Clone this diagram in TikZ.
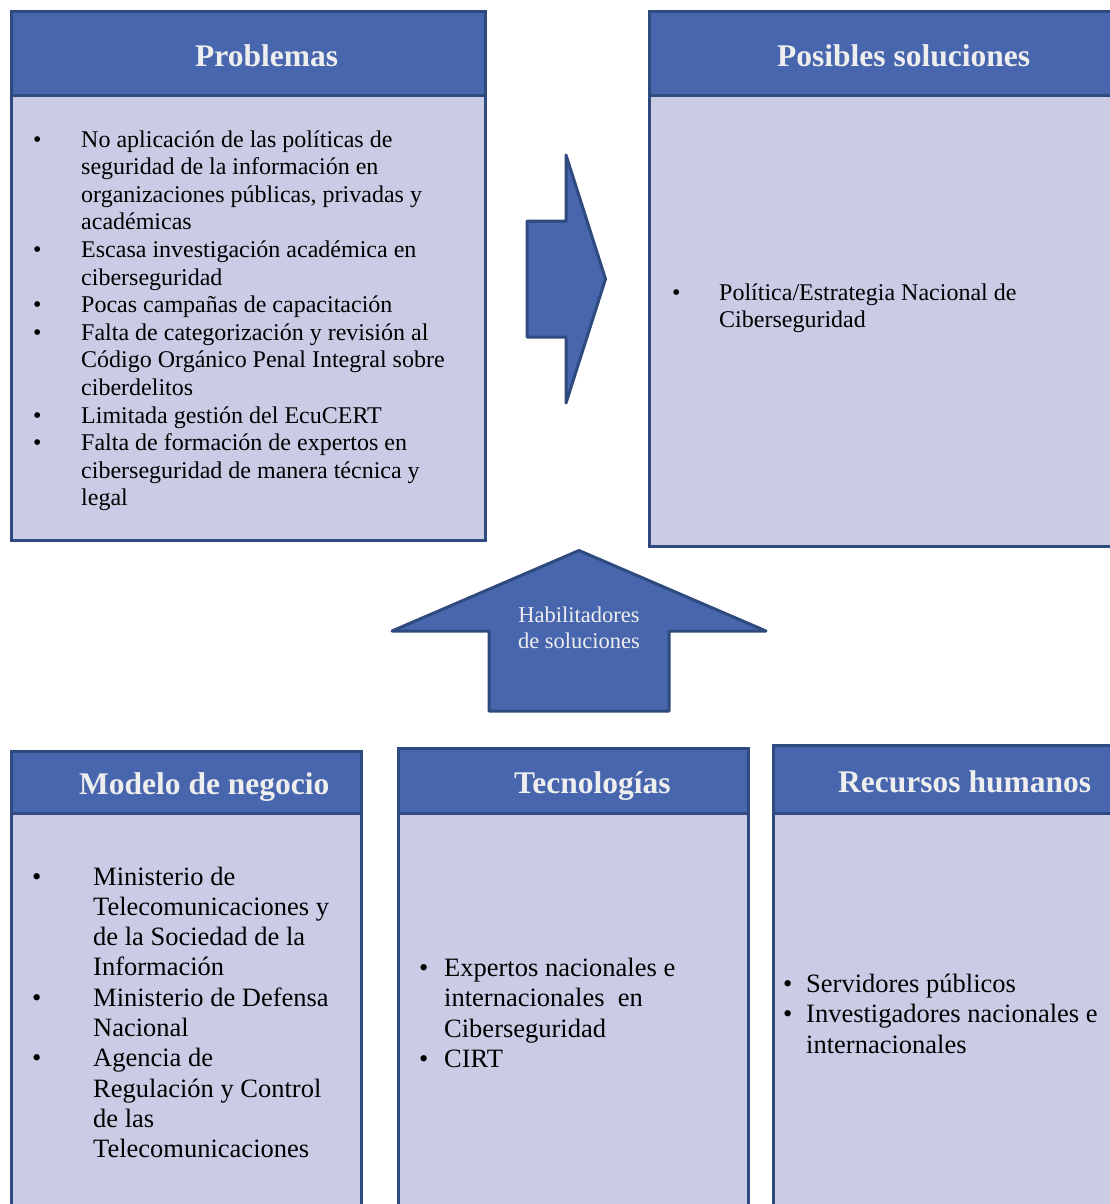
\documentclass[tikz,border=0pt]{standalone}
\usepackage{fontspec}
\setmainfont{Liberation Serif}
\definecolor{hdr}{HTML}{4866AD}
\definecolor{edge}{HTML}{2F4A7E}
\definecolor{panel}{HTML}{CACCE6}
\definecolor{ttl}{HTML}{EEEEEE}
\begin{document}
\begin{tikzpicture}[x=1pt,y=-1pt,
  headbox/.style={draw=edge, fill=hdr, line width=3pt, inner sep=0pt},
  panelbox/.style={draw=edge, fill=panel, line width=3pt, inner sep=0pt},
  blockarrow/.style={draw=edge, fill=hdr, line width=3pt, line join=round},
  title/.style={anchor=base west, inner sep=0pt, text=ttl,
    font=\fontsize{31.5}{36}\selectfont\bfseries},
  small/.style={anchor=base west, inner sep=0pt,
    font=\fontsize{24}{27.6}\selectfont},
  large/.style={anchor=base west, inner sep=0pt,
    font=\fontsize{26.5}{30.4}\selectfont},
  label/.style={anchor=base, inner sep=0pt, text=ttl,
    font=\fontsize{22.5}{26}\selectfont}]
\useasboundingbox (0,0) rectangle (1110,1204);
\clip (0,0) rectangle (1110,1204);

% ---------- Problemas ----------
\node[panelbox, minimum width=474pt, minimum height=444pt] (probBody) at (248,318) {};
\node[headbox, minimum width=474pt, minimum height=84pt] (probHead) at (248,54) {};
\node[title] (probTitle) at (195,67) {Problemas};
\foreach \t [count=\i from 0] in {
  No aplicación de las políticas de,
  seguridad de la información en,
  {organizaciones públicas, privadas y},
  académicas,
  Escasa investigación académica en,
  ciberseguridad,
  Pocas campañas de capacitación,
  Falta de categorización y revisión al,
  Código Orgánico Penal Integral sobre,
  ciberdelitos,
  Limitada gestión del EcuCERT,
  Falta de formación de expertos en,
  ciberseguridad de manera técnica y,
  legal}
  \node[small] (prob\i) at (81,{147+27.6*\i}) {\t};
\foreach \i in {0,4,6,7,10,11}
  \node[small] (probDot\i) at (33,{147+27.6*\i}) {•};

% ---------- Posibles soluciones ----------
\node[panelbox, minimum width=481pt, minimum height=450pt] (solBody) at (889.5,321) {};
\node[headbox, minimum width=481pt, minimum height=84pt] (solHead) at (889.5,54) {};
\node[title] (solTitle) at (777,67) {Posibles soluciones};
\node[small] (solDot) at (672,300) {•};
\node[small] (sol0) at (719,300) {Política/Estrategia Nacional de};
\node[small] (sol1) at (719,327) {Ciberseguridad};

% ---------- arrow from problems to solutions ----------
\draw[blockarrow] (527,221) -- (566,221) -- (566,155) -- (605.5,279)
  -- (566,403) -- (566,337) -- (527,337) -- cycle;

% ---------- enabling arrow ----------
\draw[blockarrow] (489,711) -- (489,631) -- (392,631) -- (579,550.5)
  -- (766,631) -- (669,631) -- (669,711) -- cycle;
\node[label] (hab0) at (579,622) {Habilitadores};
\node[label] (hab1) at (579,648) {de soluciones};

% ---------- Modelo de negocio ----------
\node[panelbox, minimum width=350pt, minimum height=420pt] (modBody) at (186,1023) {};
\node[headbox, minimum width=350pt, minimum height=62pt] (modHead) at (186,782) {};
\node[title] (modTitle) at (79,794) {Modelo de negocio};
\foreach \t [count=\i from 0] in {
  Ministerio de,
  Telecomunicaciones y,
  de la Sociedad de la,
  Información,
  Ministerio de Defensa,
  Nacional,
  Agencia de,
  Regulación y Control,
  de las,
  Telecomunicaciones}
  \node[large] (mod\i) at (93,{885+30.3*\i}) {\t};
\foreach \i in {0,4,6}
  \node[large] (modDot\i) at (32,{885+30.3*\i}) {•};

% ---------- Tecnologías ----------
\node[panelbox, minimum width=350pt, minimum height=420pt] (tecBody) at (573,1023) {};
\node[headbox, minimum width=350pt, minimum height=65pt] (tecHead) at (573,780.5) {};
\node[title] (tecTitle) at (514,793) {Tecnologías};
\foreach \t [count=\i from 0] in {
  Expertos nacionales e,
  internacionales\ \ en,
  Ciberseguridad,
  CIRT}
  \node[large] (tec\i) at (444,{976+30.5*\i}) {\t};
\foreach \i in {0,3}
  \node[large] (tecDot\i) at (419,{976+30.5*\i}) {•};

% ---------- Recursos humanos ----------
\node[panelbox, minimum width=357pt, minimum height=420pt] (recBody) at (951.5,1023) {};
\node[headbox, minimum width=357pt, minimum height=68pt] (recHead) at (951.5,779) {};
\node[title] (recTitle) at (838,792) {Recursos humanos};
\foreach \t [count=\i from 0] in {
  Servidores públicos,
  Investigadores nacionales e,
  internacionales}
  \node[large] (rec\i) at (806,{992+30.8*\i}) {\t};
\foreach \i in {0,1}
  \node[large] (recDot\i) at (783,{992+30.8*\i}) {•};
\end{tikzpicture}
\end{document}
